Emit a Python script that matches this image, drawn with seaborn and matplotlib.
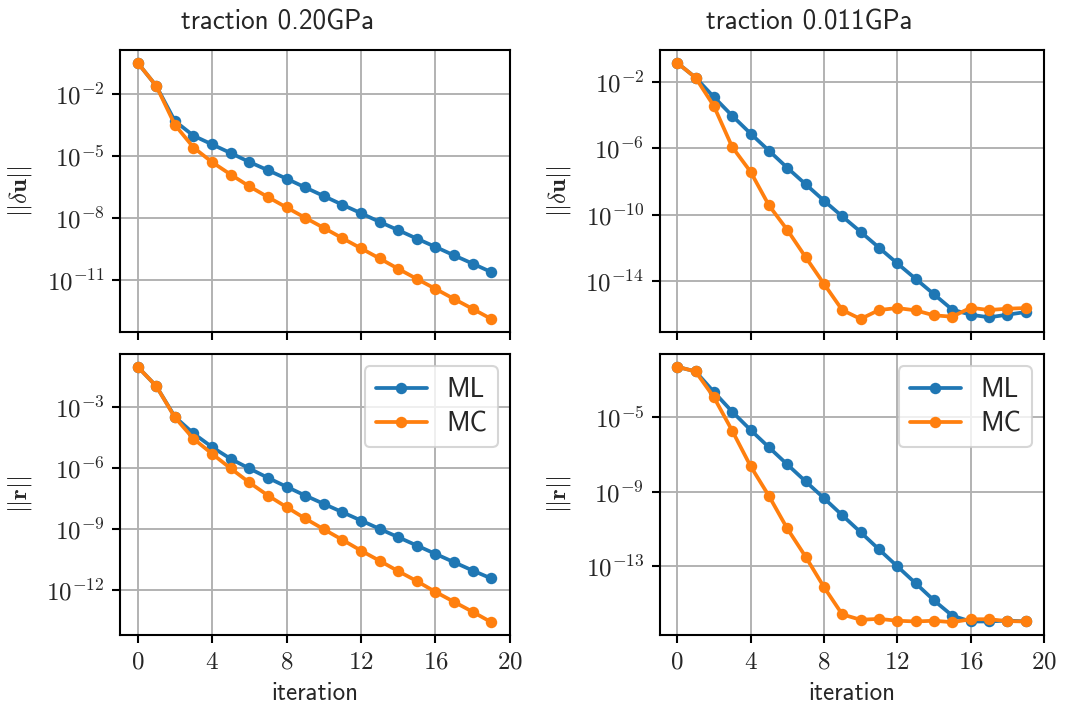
import numpy as np
import pandas as pd
import matplotlib
matplotlib.use("Agg")
import matplotlib.pyplot as plt
from matplotlib.ticker import FixedLocator, NullLocator, FuncFormatter
import seaborn as sns

iterations = list(range(20))

# log10 of norms
du_020_ML = [-0.48, -1.60, -3.30, -4.01, -4.43, -4.85, -5.28, -5.68, -6.09, -6.51,
             -6.93, -7.35, -7.76, -8.18, -8.58, -8.99, -9.39, -9.80, -10.20, -10.61]
du_020_MC = [-0.48, -1.60, -3.48, -4.58, -5.29, -5.89, -6.46, -6.98, -7.48, -7.98,
             -8.47, -8.97, -9.46, -9.95, -10.45, -10.94, -11.42, -11.91, -12.39, -12.88]
du_011_ML = [-0.85, -1.74, -2.91, -4.04, -5.11, -6.14, -7.17, -8.16, -9.15, -10.10,
             -11.03, -11.98, -12.93, -13.86, -14.79, -15.72, -16.02, -16.18, -16.02, -15.86]
du_011_MC = [-0.85, -1.74, -3.45, -5.92, -7.41, -9.43, -10.91, -12.55, -14.16, -15.74,
             -16.28, -15.74, -15.62, -15.76, -16.06, -16.14, -15.60, -15.74, -15.66, -15.62]
r_020_ML = [-1.03, -1.98, -3.49, -4.31, -4.98, -5.56, -6.03, -6.49, -6.93, -7.36,
            -7.77, -8.18, -8.59, -9.00, -9.41, -9.82, -10.23, -10.64, -11.05, -11.44]
r_020_MC = [-1.03, -1.98, -3.52, -4.57, -5.31, -6.03, -6.72, -7.36, -7.93, -8.49,
            -9.02, -9.54, -10.07, -10.57, -11.08, -11.57, -12.10, -12.59, -13.08, -13.59]
r_011_ML = [-2.29, -2.54, -3.64, -4.70, -5.68, -6.61, -7.53, -8.44, -9.34, -10.26,
            -11.17, -12.09, -13.00, -13.91, -14.83, -15.65, -15.96, -15.96, -15.91, -15.96]
r_011_MC = [-2.29, -2.54, -3.92, -5.72, -7.62, -9.22, -10.97, -12.48, -14.11, -15.58,
            -15.87, -15.82, -15.92, -15.96, -15.92, -16.00, -15.84, -15.84, -15.94, -15.96]

titles = ["traction 0.20GPa", "traction 0.011GPa"]
methods = ["ML", "MC"]
xticks = [0, 4, 8, 12, 16, 20]
yticks = {
    (0, 0): [-2, -5, -8, -11],
    (0, 1): [-2, -6, -10, -14],
    (1, 0): [-3, -6, -9, -12],
    (1, 1): [-5, -9, -13],
}

sns.set_theme(style="ticks")
plt.rcParams["mathtext.fontset"] = "cm"
plt.rcParams["font.family"] = ["cmss10", "DejaVu Sans"]
plt.rcParams["axes.unicode_minus"] = False

fig = plt.figure(figsize=(1078 / 150, 709 / 150), dpi=150)
lefts = [0.1113, 0.612]
width = [0.473 - 0.1113, 0.9685 - 0.612]
bottoms = [0.532, 0.1044]
heights = [0.9295 - 0.532, 0.5007 - 0.1044]

panels = {
    (0, 0): (du_020_ML, du_020_MC),
    (0, 1): (du_011_ML, du_011_MC),
    (1, 0): (r_020_ML, r_020_MC),
    (1, 1): (r_011_ML, r_011_MC),
}
ylabels = [r"$||\delta\mathbf{u}||$", r"$||\mathbf{r}||$"]
palette = {"ML": "#1f77b4", "MC": "#ff7f0e"}
title_x = [0.404, 0.39]


def log_fmt(v, p):
    e = int(round(np.log10(v)))
    return r"$10^{%d}$" % e


for (r, c), (ml, mc) in panels.items():
    ax = fig.add_axes([lefts[c], bottoms[r], width[c], heights[r]])
    df = pd.DataFrame({
        "iteration": iterations * 2,
        "value": list(10.0 ** np.array(ml)) + list(10.0 ** np.array(mc)),
        "method": ["ML"] * 20 + ["MC"] * 20,
    })
    sns.lineplot(data=df, x="iteration", y="value", hue="method", hue_order=methods,
                 palette=palette, marker="o", markersize=5.5, markeredgewidth=0,
                 linewidth=1.8, ax=ax, legend=(r == 1))
    ax.set_yscale("log")
    ax.set_xlim(-0.95, 20)
    ax.xaxis.set_major_locator(FixedLocator(xticks))
    ax.yaxis.set_major_locator(FixedLocator([10.0 ** e for e in yticks[(r, c)]]))
    ax.yaxis.set_minor_locator(NullLocator())
    ax.yaxis.set_major_formatter(FuncFormatter(log_fmt))
    ax.grid(True, color="#b0b0b0", linewidth=0.9)
    for s in ax.spines.values():
        s.set_color("black")
        s.set_linewidth(1.0)
    ax.tick_params(axis="both", which="major", direction="out", length=4, width=1,
                   color="black", labelsize=12)
    ax.set_ylabel(ylabels[r], fontsize=12, labelpad=6)
    if r == 0:
        ax.set_title(titles[c], fontsize=13, pad=10, x=title_x[c])
        ax.set_xlabel("")
        ax.tick_params(axis="x", labelbottom=False)
    else:
        ax.xaxis.set_major_formatter(FuncFormatter(lambda v, p: r"$\mathrm{%d}$" % int(v)))
        ax.set_xlabel("iteration", fontsize=12)
        leg = ax.legend(loc="upper right", fontsize=13, handlelength=1.9,
                        handletextpad=0.7, borderpad=0.4, labelspacing=0.35,
                        borderaxespad=0.45, framealpha=0.8)
        leg.get_frame().set_edgecolor("#cccccc")

fig.savefig("out.png", dpi=150)
